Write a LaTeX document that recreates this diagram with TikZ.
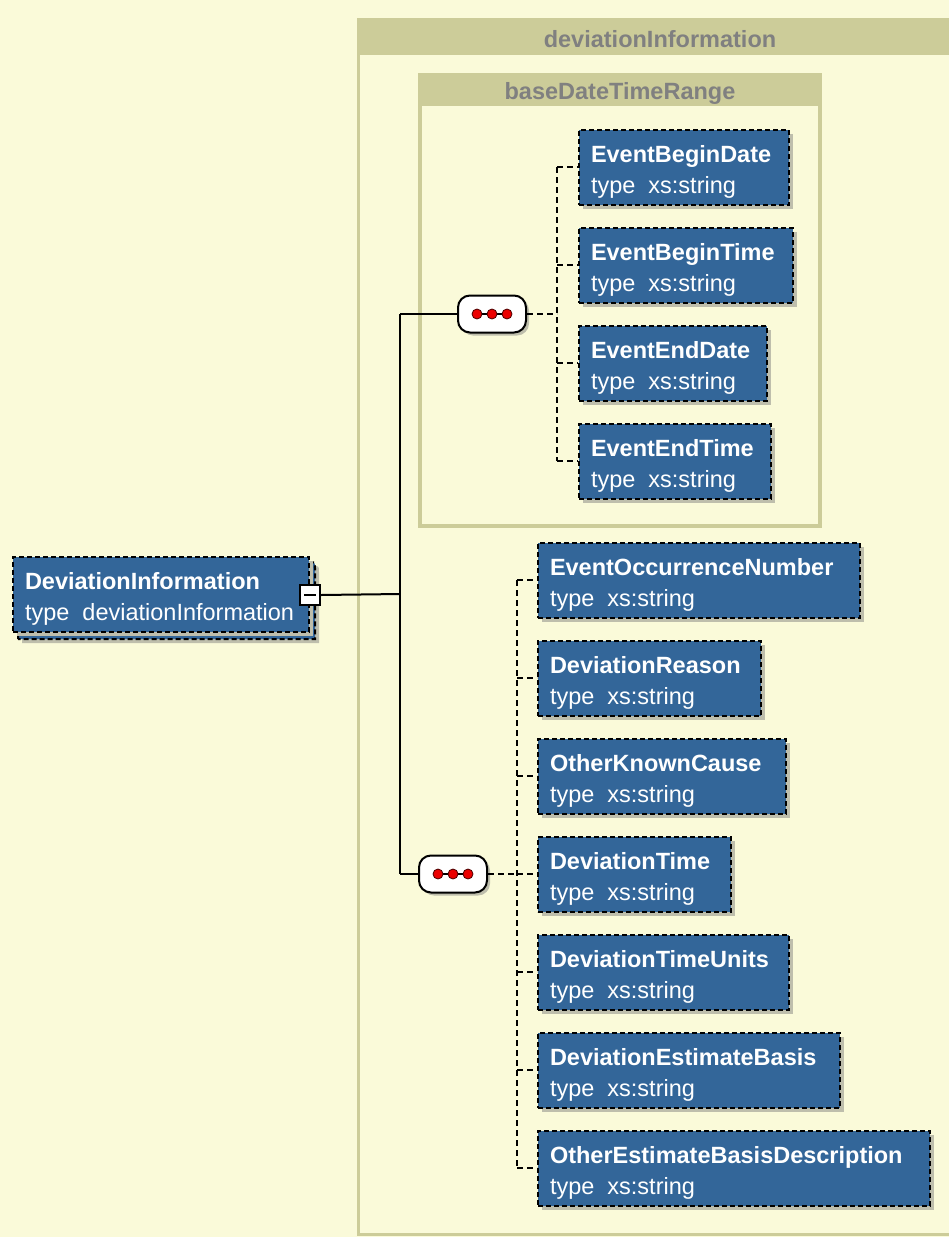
\documentclass[tikz,border=0pt]{standalone}
\usepackage{fontspec}
\setmainfont{Liberation Sans}
\usepackage{array}
\usetikzlibrary{shadows}
\definecolor{bgcol}{RGB}{250,250,217}
\definecolor{khaki}{RGB}{204,204,153}
\definecolor{hdrtext}{RGB}{128,128,128}
\definecolor{elblue}{RGB}{51,102,153}
\definecolor{shcol}{RGB}{190,190,172}
\definecolor{dotred}{RGB}{235,0,0}
\newcommand{\elt}[3]{\begin{tabular}[t]{@{\hspace{12pt}}p{#1}@{}}\textbf{#2}\\type\ \ #3\end{tabular}}
\begin{document}
\begin{tikzpicture}[x=1pt,y=-1pt,font=\fontsize{23.5}{31}\selectfont,
  elem/.style={draw=black, line width=2pt, dash pattern=on 5pt off 3pt, fill=elblue, text=white,
    anchor=west, inner sep=0pt, text height=33pt, text depth=42pt,
    general shadow={fill=shcol, shadow xshift=4pt, shadow yshift=-4pt}},
  conn/.style={line width=2pt, black},
  dconn/.style={line width=2pt, black, dash pattern=on 6pt off 4pt},
  seqbox/.style={draw=black, line width=2pt, fill=white, rounded corners=12pt, minimum width=68pt,
    minimum height=37pt, inner sep=0pt, general shadow={fill=shcol, shadow xshift=3pt, shadow yshift=-3pt}},
  hdr/.style={text=hdrtext, font=\fontsize{23.5}{28}\selectfont\bfseries, inner sep=0pt},
  dot/.style={fill=dotred, draw=black!70!red, line width=0.8pt}]
\useasboundingbox (0,0) rectangle (949,1237);
\fill[bgcol] (0,0) rectangle (949,1237);
% outer group
\draw[khaki, line width=3pt] (358.5,19.5) rectangle (975,1234.5);
\fill[khaki] (357,18) rectangle (975,55);
\node[hdr] (outerhdr) at (660,39) {deviationInformation};
% inner group
\draw[khaki, line width=4pt] (420,75) rectangle (820,526);
\fill[khaki] (418,73) rectangle (822,106);
\node[hdr] (innerhdr) at (620,93) {baseDateTimeRange};
% main element back box
\fill[shcol] (22,566) -- (313,566) .. controls (319,566) .. (319,572) -- (319,643) -- (22,643) -- cycle;
\draw[fill=elblue, line width=2pt, dash pattern=on 5pt off 3pt] (18,639) -- (18,562) -- (309,562) .. controls (315,562) .. (315,568) -- (315,639) -- cycle;
\node[elem] (main) at (12,594) {\elt{284pt}{DeviationInformation}{deviationInformation}};
\node[draw=black, fill=white, line width=2pt, minimum size=20pt, inner sep=0pt] (minus) at (310,595) {};
\draw[line width=2.5pt] ([xshift=-6pt]minus.center) -- ([xshift=6pt]minus.center);
% sequences
\node[seqbox] (seq1) at (492,314) {};
\node[seqbox] (seq2) at (453,874) {};
\foreach \s in {seq1,seq2}{
  \draw[line width=1.5pt] ([xshift=-15pt]\s.center) -- ([xshift=15pt]\s.center);
  \foreach \dx in {-15,0,15}
    \draw[dot] ([xshift=\dx pt]\s.center) circle (5pt);
}
% elements group 1
\node[elem] (e1) at (578,167) {\elt{198pt}{EventBeginDate}{xs:string}};
\node[elem] (e2) at (578,265) {\elt{202pt}{EventBeginTime}{xs:string}};
\node[elem] (e3) at (578,363) {\elt{176pt}{EventEndDate}{xs:string}};
\node[elem] (e4) at (578,461) {\elt{180pt}{EventEndTime}{xs:string}};
% elements group 2
\node[elem] (f1) at (537,580) {\elt{310pt}{EventOccurrenceNumber}{xs:string}};
\node[elem] (f2) at (537,678) {\elt{211pt}{DeviationReason}{xs:string}};
\node[elem] (f3) at (537,776) {\elt{236pt}{OtherKnownCause}{xs:string}};
\node[elem] (f4) at (537,874) {\elt{181pt}{DeviationTime}{xs:string}};
\node[elem] (f5) at (537,972) {\elt{239pt}{DeviationTimeUnits}{xs:string}};
\node[elem] (f6) at (537,1070) {\elt{290pt}{DeviationEstimateBasis}{xs:string}};
\node[elem] (f7) at (537,1168) {\elt{380pt}{OtherEstimateBasisDescription}{xs:string}};
% solid connectors
\coordinate (j) at (400,594);
\coordinate (j1) at (400,314);
\coordinate (j2) at (400,874);
\draw[conn] (minus.east) -- (j);
\draw[conn] (j1) -- (j2);
\draw[conn] (j1) -- (seq1.west);
\draw[conn] (j2) -- (seq2.west);
% dashed connectors group 1
\coordinate (v1) at (557,314);
\draw[dconn] (seq1.east) -- (v1);
\draw[dconn] (v1 |- e1.west) -- (v1 |- e4.west);
\foreach \n in {e1,e2,e3,e4}
  \draw[dconn] (v1 |- \n.west) -- (\n.west);
% dashed connectors group 2
\coordinate (v2) at (517,874);
\draw[dconn] (seq2.east) -- (v2);
\draw[dconn] (v2 |- f1.west) -- (v2 |- f7.west);
\foreach \n in {f1,f2,f3,f4,f5,f6,f7}
  \draw[dconn] (v2 |- \n.west) -- (\n.west);
\end{tikzpicture}
\end{document}
